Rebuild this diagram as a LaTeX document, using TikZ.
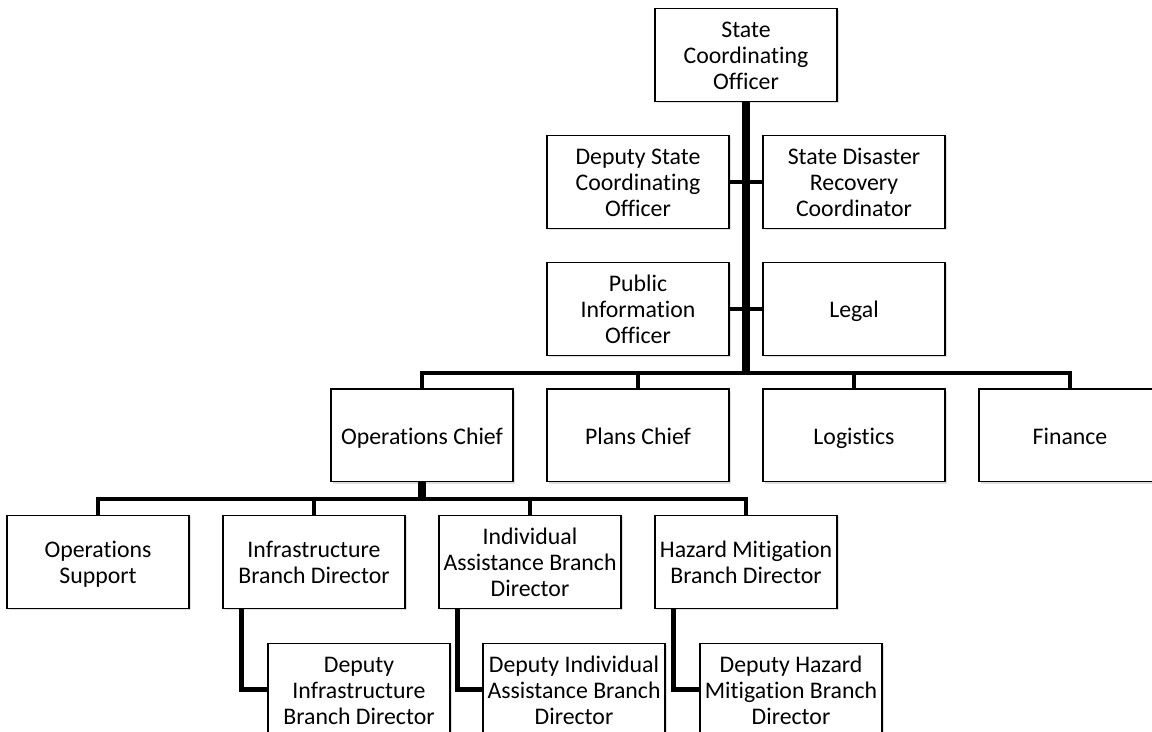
\documentclass[tikz,border=0pt]{standalone}
\usepackage{fontspec}
\setmainfont{Carlito}[Ligatures=NoCommon]
\usetikzlibrary{shadows}
\tikzset{
office/.style={draw, line width=0.7pt, fill=white, align=flush center, text width=89pt,
  minimum width=91pt, minimum height=46.3pt, inner xsep=1pt, inner ysep=0pt,
  font=\fontsize{11.9}{13}\selectfont,
  execute at begin node={\rule{0pt}{12.6pt}}, execute at end node=\strut,
  drop shadow={shadow xshift=0.9pt, shadow yshift=-0.9pt, opacity=0.25}},
wire/.style={line width=2.4pt},
mainwire/.style={line width=3.7pt}
}
\begin{document}
\begin{tikzpicture}[x=0.5pt, y=-0.5pt]
\useasboundingbox (0,0) rectangle (1152,732);
\clip (0,0) rectangle (1152,732);
  \node[office] (sco) at (746,55) {State\\Coordinating\\Officer};
  \node[office] (dsco) at (638,182) {Deputy State\\Coordinating\\Officer};
  \node[office] (sdrc) at (854,182) {State Disaster\\Recovery\\Coordinator};
  \node[office] (pio) at (638,309) {Public\\Information\\Officer};
  \node[office] (legal) at (854,309) {Legal};
  \node[office] (ops) at (422,435.5) {Operations Chief};
  \node[office] (plans) at (638,435.5) {Plans Chief};
  \node[office] (logi) at (854,435.5) {Logistics};
  \node[office] (fin) at (1070,435.5) {Finance};
  \node[office] (opsup) at (98,562) {Operations\\Support};
  \node[office] (infra) at (314,562) {Infrastructure\\Branch Director};
  \node[office] (iabd) at (530,562) {Individual\\Assistance Branch\\Director};
  \node[office] (hmbd) at (746,562) {Hazard Mitigation\\Branch Director};
  \node[office] (dinfra) at (359,689.5) {Deputy\\Infrastructure\\Branch Director};
  \node[office] (diabd) at (574,689.5) {Deputy Individual\\Assistance Branch\\Director};
  \node[office] (dhmbd) at (791,689.5) {Deputy Hazard\\Mitigation Branch\\Director};
\coordinate (bar1) at (746,373);
\coordinate (bar2) at (422,499);
\draw[wire] (dsco.east) -- (sdrc.west);
\draw[wire] (pio.east) -- (legal.west);
\draw[wire] (ops.north) -- (ops.north |- bar1) -| (fin.north);
\draw[wire] (plans.north) -- (plans.north |- bar1);
\draw[wire] (logi.north) -- (logi.north |- bar1);
\draw[mainwire] (sco.south) -- (bar1);
\draw[wire] (opsup.north) -- (opsup.north |- bar2) -| (hmbd.north);
\draw[wire] (infra.north) -- (infra.north |- bar2);
\draw[wire] (iabd.north) -- (iabd.north |- bar2);
\draw[mainwire] (ops.south) -- (bar2);
\draw[wire] ([xshift=9.7pt]infra.south west) |- (dinfra.west);
\draw[wire] ([xshift=9.7pt]iabd.south west) |- (diabd.west);
\draw[wire] ([xshift=9.7pt]hmbd.south west) |- (dhmbd.west);
\end{tikzpicture}
\end{document}
